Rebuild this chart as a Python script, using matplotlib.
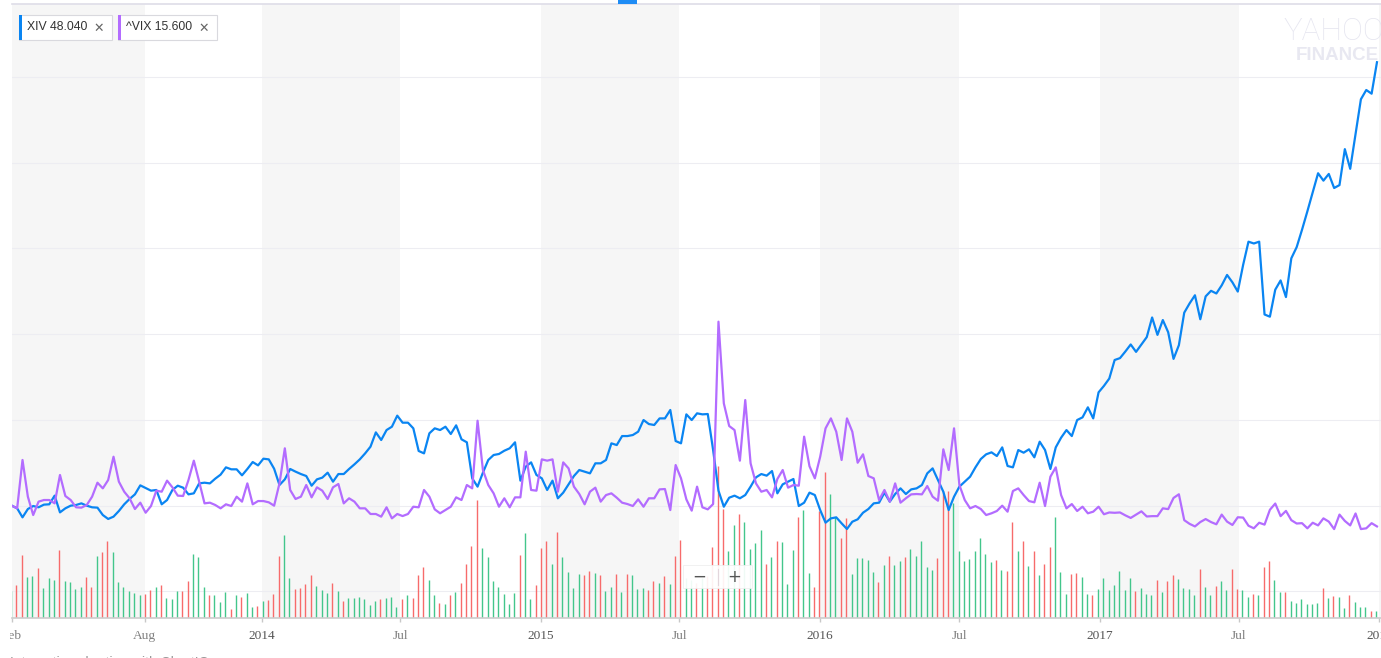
import matplotlib
matplotlib.use('Agg')
import matplotlib.pyplot as plt
import matplotlib.dates as mdates
import matplotlib.transforms as mtransforms
from matplotlib.patches import Rectangle
from matplotlib.lines import Line2D
from matplotlib.transforms import Bbox
import numpy as np
import pandas as pd

# ---------------- data (weekly, % change since first week) ----------------
start_date = '2013-02-08'
xiv_pct = [
    0, -3.1, -13.6, -3.9, -0.4, -1.9, 1.2, 1.6, 11.7, -7.8,
    -3.1, 0, 0.8, 2.7, 0, -1.9, -2.3, -10.9, -15.5, -12.8,
    -6.2, 1.6, 7.8, 13.2, 23.7, 20.6, 17.5, 18.3, 1.6, 6.6,
    18.3, 23.3, 21.0, 13.2, 14.4, 26.0, 26.8, 26.0, 31.5, 36.2,
    44.7, 42.4, 42.4, 35.4, 42.8, 50.9, 47.0, 54.8, 54.0, 43.1,
    24.1, 30.7, 42.8, 39.7, 36.9, 34.6, 23.3, 30.7, 32.7, 38.5,
    28.0, 36.9, 36.9, 42.8, 48.2, 54.0, 61.0, 68.8, 85.5, 76.6,
    88.2, 92.1, 105.0, 96.8, 96.8, 90.2, 63.8, 61.0, 84.4, 90.2,
    88.2, 92.1, 83.6, 93.7, 77.4, 73.9, 31.9, 22.2, 38.5, 53.3,
    59.1, 60.3, 64.1, 66.9, 73.9, 29.2, 45.5, 50.5, 35.8, 31.9,
    18.3, 29.2, 8.6, 15.2, 24.9, 34.6, 41.6, 39.7, 37.7, 49.4,
    49.4, 53.3, 72.7, 70.7, 81.2, 81.2, 82.4, 86.3, 99.9, 95.2,
    94.1, 101.8, 101.8, 111.6, 75.4, 72.7, 106.5, 99.9, 107.7, 106.5,
    106.9, 64.9, 17.5, -1.2, 9.3, 11.7, 8.6, 12.4, 22.2, 33.0,
    36.9, 35.0, 40.4, 14.4, 24.9, 28.0, 31.1, -0.4, 3.5, 15.2,
    12.4, -5.1, -19.8, -14.8, -13.6, -20.6, -27.2, -18.7, -15.9, -8.2,
    -3.9, 2.7, 3.5, 15.2, 4.7, 13.6, 20.2, 13.6, 19.0, 20.2,
    24.1, 37.7, 43.5, 29.9, 16.3, -5.1, 10.5, 22.2, 28.0, 33.8,
    44.7, 54.4, 59.9, 62.2, 57.9, 68.0, 46.3, 44.7, 64.9, 61.8,
    65.7, 56.4, 74.6, 64.9, 42.8, 68.0, 79.3, 88.2, 81.2, 99.9,
    103.0, 114.7, 101.8, 132.2, 139.7, 148.3, 169.9, 172.1, 179.8, 188.0,
    179.4, 188.0, 196.6, 219.5, 199.2, 216.5, 202.3, 171.2, 187.2, 225.1,
    235.9, 245.4, 217.4, 244.1, 250.6, 247.5, 257.0, 269.1, 260.5, 249.7,
    280.8, 307.9, 305.8, 307.9, 223.0, 220.4, 251.9, 262.7, 243.3, 288.5,
    301.5, 321.8, 343.3, 365.3, 387.7, 379.1, 386.9, 370.5, 373.9, 415.8,
    392.9, 433.1, 474.0, 484.8, 480.5, 517.2,
]
vix_pct = [
    0, -3.1, 53.3, 10.5, -10.9, 4.7, 6.6, 6.6, 2.7, 35.8,
    11.3, 6.6, -1.9, -2.3, 0.8, 10.5, 26.8, 20.2, 29.9, 57.1,
    28.0, 16.3, 8.6, -3.9, 3.5, -8.2, -0.4, 17.5, 16.3, 29.2,
    21.4, 11.7, 11.3, 29.9, 52.5, 28.0, 2.7, 3.5, 0.8, -3.1,
    1.6, -0.4, 10.5, 4.7, 26.0, 1.6, 5.4, 5.4, 3.9, 0,
    26.0, 66.9, 18.3, 7.8, 10.5, 24.1, 9.7, 21.4, 17.5, 7.8,
    21.4, 25.3, 2.7, 8.6, 4.7, -3.1, -3.1, -9.7, -9.7, -12.8,
    -1.9, -14.8, -9.7, -12.1, -9.7, -1.2, -1.9, 18.3, 10.5, -4.3,
    -8.9, -5.1, -1.2, 9.7, 6.6, 24.1, 20.2, 99.1, 41.6, 24.1,
    14.4, -1.2, 8.6, -1.9, 9.7, 9.7, 63.0, 18.3, 17.5, 54.0,
    52.5, 54.0, 16.3, 50.5, 43.5, 22.2, 13.6, 1.6, 16.3, 21.0,
    4.7, 12.4, 14.4, 9.3, 3.5, 1.9, -0.4, 7.4, -1.2, 8.6,
    8.6, 19.0, 19.4, -5.1, 47.4, 31.9, 7.4, -5.8, 22.2, -1.9,
    -4.3, 1.9, 214.6, 119.3, 92.9, 88.2, 52.5, 123.2, 49.4, 26.0,
    16.3, 18.3, 9.7, 31.1, 41.6, 21.0, 24.1, 23.3, 80.5, 46.0,
    31.9, 57.1, 90.2, 101.8, 86.3, 53.3, 101.8, 86.3, 50.1, 59.9,
    34.6, 31.9, 6.6, 18.3, 4.7, 26.0, 3.5, 8.6, 13.2, 13.6,
    13.2, 22.9, 10.5, 5.8, 65.7, 41.6, 90.2, 24.1, 6.6, -3.1,
    -0.4, -3.9, -10.9, -8.9, -6.2, 0, -7.0, 17.1, 20.2, 12.4,
    5.4, 3.9, 26.8, -0.4, 33.8, 44.7, 12.4, -3.1, 1.9, -6.2,
    -1.2, -8.9, -7.0, -1.2, -10.0, -7.9, -8.3, -7.9, -11.3, -14.3,
    -10.4, -6.6, -12.6, -12.2, -12.2, -3.1, -4.0, 9.0, 13.3, -16.9,
    -21.2, -24.2, -19.1, -15.6, -19.1, -21.7, -10.4, -18.6, -22.5, -13.5,
    -13.9, -23.4, -26.4, -19.9, -22.1, -4.8, 2.5, -12.2, -6.1, -16.9,
    -20.8, -20.4, -26.4, -19.9, -23.0, -14.8, -18.6, -27.3, -10.4, -17.8,
    -23.0, -9.1, -27.3, -26.4, -20.4, -24.2,
]
volume = [
    27, 33, 63, 41, 42, 50, 30, 40, 38, 68,
    37, 36, 29, 31, 41, 31, 62, 66, 77, 66,
    36, 31, 27, 25, 23, 24, 28, 31, 33, 20,
    19, 27, 27, 37, 64, 61, 31, 23, 23, 16,
    26, 9, 23, 21, 25, 11, 12, 17, 18, 24,
    62, 83, 40, 29, 30, 34, 43, 32, 28, 25,
    35, 27, 17, 20, 20, 21, 19, 13, 17, 19,
    20, 21, 11, 19, 23, 20, 43, 51, 38, 23,
    15, 14, 23, 26, 35, 54, 72, 118, 70, 61,
    37, 31, 24, 14, 25, 63, 85, 19, 33, 70,
    77, 54, 86, 61, 46, 30, 44, 43, 47, 45,
    43, 27, 31, 44, 26, 44, 43, 29, 30, 28,
    37, 35, 42, 34, 62, 78, 40, 38, 35, 40,
    42, 71, 152, 109, 67, 93, 104, 96, 69, 75,
    88, 54, 61, 77, 76, 34, 68, 101, 108, 45,
    31, 107, 146, 124, 101, 80, 100, 44, 60, 60,
    58, 46, 36, 53, 62, 53, 57, 61, 69, 62,
    77, 51, 48, 60, 127, 127, 115, 67, 57, 59,
    67, 80, 64, 56, 58, 48, 47, 96, 67, 77,
    52, 67, 43, 54, 71, 101, 46, 24, 44, 45,
    41, 24, 23, 29, 40, 28, 33, 47, 28, 40,
    27, 30, 24, 23, 38, 26, 37, 43, 39, 30,
    29, 23, 49, 31, 23, 32, 37, 28, 49, 29,
    28, 21, 24, 23, 51, 57, 38, 26, 26, 17,
    15, 19, 14, 14, 15, 30, 20, 22, 21, 10,
    23, 16, 11, 11, 7, 7,
]
# G = up week, R = down week
direction = (
    "GRRGGRGGGR" "GGGGRRGRRG" "GGGGGRRGRG" "GGRRGGGRGG" "GRGRGGRGRR"
    "RGGRRRRGGG" "RGRGGGGGGR" "GGGRGRRRGG" "RGRGRRRRGG" "GGGGGRGGRR"
    "RGRGGGGRRG" "RGGRGRGGGR" "RGRGRRGGRG" "RRRRGGRGGG" "GRGRGGGRGG"
    "RRRGGRRGGG" "GGRGRGGRGG" "GGGRRRGGGG" "GGGGRGRRGR" "GRGRRGGGRR"
    "GGRGGGGGGG" "RGGGRGRRGG" "GGRGGRGGRR" "GGRGRRGGRG" "GGGGGRGRGG"
    "RGGGRG"
)
legend_items = [("XIV", "48.040"), ("^VIX", "15.600")]
tick_dates = ['2013-02-08', '2013-08-01', '2014-01-01', '2014-07-01', '2015-01-01',
              '2015-07-01', '2016-01-01', '2016-07-01', '2017-01-01', '2017-07-01',
              '2018-01-01']
tick_labels = ['Feb', 'Aug', '2014', 'Jul', '2015', 'Jul', '2016', 'Jul', '2017', 'Jul', '2018']
shade_ranges = [('2013-02-01', '2013-08-01'), ('2014-01-01', '2014-07-01'),
                ('2015-01-01', '2015-07-01'), ('2016-01-01', '2016-07-01'),
                ('2017-01-01', '2017-07-01'), ('2018-01-01', '2018-07-01')]
grid_levels = [-100, 0, 100, 200, 300, 400, 500]

# ---------------- figure ----------------
W, H = 1381, 658
fig = plt.figure(figsize=(W / 100, H / 100), dpi=100)
fig.patch.set_facecolor('white')


def fx(x):
    return x / W


def fy(y):
    return 1 - y / H


AX_L, AX_R, AX_T, AX_B = 11.7, 1381.0, 4.0, 618.0
ax = fig.add_axes([fx(AX_L), fy(AX_B), (AX_R - AX_L) / W, (AX_B - AX_T) / H])
ax.set_facecolor('white')

dates = pd.date_range(start_date, periods=len(xiv_pct), freq='7D')
xnum = mdates.date2num(dates)
x0 = mdates.date2num(pd.Timestamp(start_date)) - 0.13
x1 = x0 + (AX_R - AX_L) / 0.7648
ax.set_xlim(x0, x1)
ax.set_ylim(-131.0, 585.1)

# shaded half-year bands
for a, b in shade_ranges:
    ax.axvspan(max(mdates.date2num(pd.Timestamp(a)), x0), mdates.date2num(pd.Timestamp(b)),
               color='#f6f6f6', lw=0, zorder=0)

for g in grid_levels:
    ax.axhline(g, color='#ededf2', lw=0.8, zorder=1)

# volume bars (own scale: fraction of the axes height)
VOL_TOP = 614.0
blend = mtransforms.blended_transform_factory(ax.transData, ax.transAxes)
vol_frac = np.array(volume, dtype=float) / VOL_TOP
vcolors = ['#43c68b' if d == 'G' else '#f76b6b' for d in direction]
ax.vlines(xnum - 1.0, 0, vol_frac, colors=vcolors, linewidth=1.0, transform=blend, zorder=2)

# price lines
ax.plot(xnum, xiv_pct, color='#0a85f2', lw=1.6, zorder=4, solid_joinstyle='round')
ax.plot(xnum, vix_pct, color='#b36cff', lw=1.6, zorder=5, solid_joinstyle='round')

# spines / ticks
for s in ['left', 'right']:
    ax.spines[s].set_visible(False)
ax.spines['bottom'].set_color('#cccccc')
ax.spines['bottom'].set_linewidth(1.2)
ax.spines['top'].set_color('#dedde8')
ax.spines['top'].set_linewidth(1.2)
ax.set_yticks([])
tnum = [mdates.date2num(pd.Timestamp(d)) for d in tick_dates]
ax.set_xticks(tnum)
ax.tick_params(axis='x', direction='out', length=3, width=1, color='#c8c8c8', labelbottom=False)

clipbox = Bbox([[10.0, 0.0], [W, H]])
for t, lab in zip(tnum, tick_labels):
    is_year = lab.isdigit()
    txt = ax.text(t, -0.0293, lab, transform=blend, ha='center', va='center',
                  fontsize=9.6, family='Liberation Serif',
                  color='#555555' if is_year else '#808080')
    txt.set_clip_path(None)
    txt.set_clip_box(clipbox)
    txt.set_clip_on(True)

# ---------------- decorations ----------------
# tab indicator
fig.add_artist(Rectangle((fx(618), fy(3.5)), 19 / W, 3.5 / H, color='#1e8cf5', lw=0))

# legend chips
chip_boxes = [(19, 112, '#0a85f2'), (118, 217, '#b36cff')]
for (name, val), (xa, xb, c) in zip(legend_items, chip_boxes):
    fig.add_artist(Rectangle((fx(xa), fy(39.5)), (xb - xa) / W, 24.5 / H,
                             facecolor='white', edgecolor='#d9d9de', lw=0.8, zorder=10))
    fig.add_artist(Rectangle((fx(xa), fy(39.5)), 3 / W, 24.5 / H,
                             facecolor=c, lw=0, zorder=11))
    fig.text(fx(xa + 8), fy(27.5), f"{name} {val}", fontsize=8.8, family='Liberation Sans',
             color='#333333', va='center', ha='left', zorder=12)
    fig.text(fx(xb - 13), fy(28), "\u2715", fontsize=9, family='DejaVu Sans',
             color='#666666', va='center', ha='center', zorder=12)

# Yahoo Finance watermark
fig.text(fx(1283), fy(40.5), "YAHOO!", fontsize=22.5, family='Roboto', fontweight='light',
         color='#e6e6f0', va='baseline', ha='left', zorder=1)
fig.text(fx(1296), fy(59.5), "FINANCE", fontsize=13.5, family='Liberation Sans',
         fontweight='bold', color='#e8e8f1', va='baseline', ha='left', zorder=1)

# zoom buttons
fig.add_artist(Rectangle((fx(683), fy(588)), 69 / W, 23 / H, facecolor='white',
                         edgecolor='#eeeeee', lw=0.6, alpha=0.92, zorder=10))
fig.add_artist(Line2D([fx(718), fx(718)], [fy(569), fy(585)], color='#e3d6dc', lw=0.8, zorder=11))
fig.text(fx(699), fy(576.5), "\u2212", fontsize=12, family='DejaVu Sans', color='#555555',
         ha='center', va='center', zorder=12)
fig.text(fx(734.5), fy(576.5), "+", fontsize=12, family='DejaVu Sans', color='#555555',
         ha='center', va='center', zorder=12)

# bottom credit (mostly cut off by the image edge)
fig.text(fx(10), fy(655.5), "Interactive charting with ChartIQ", fontsize=10,
         family='Liberation Sans', color='#999999', va='top', ha='left')

fig.savefig('out.png', dpi=100)
